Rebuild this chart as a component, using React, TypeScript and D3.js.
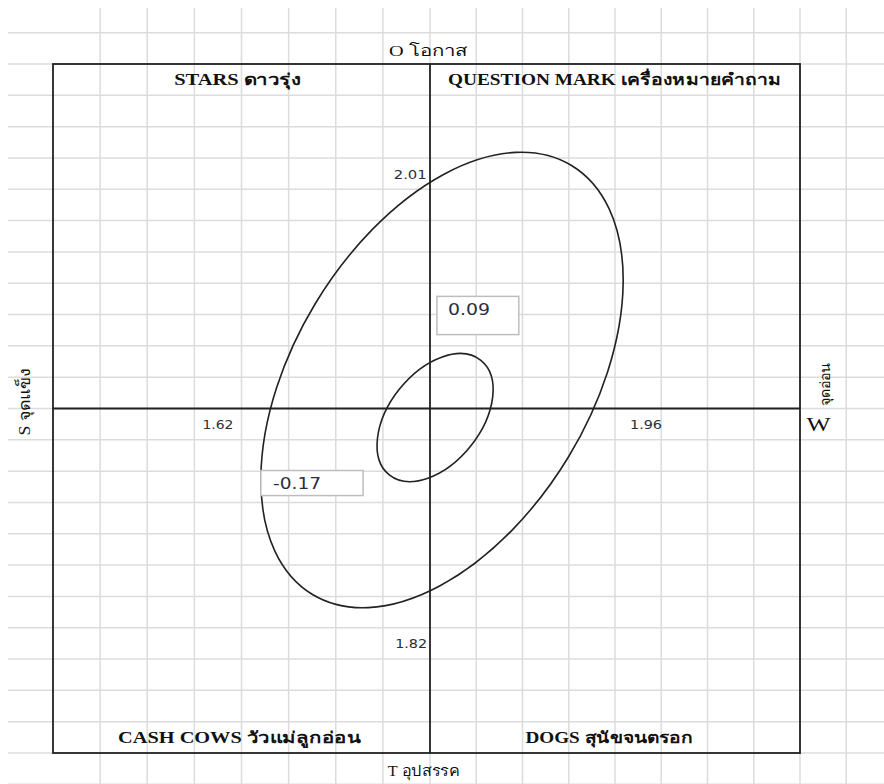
import React from 'react'
import * as d3 from 'd3'

// quadrant titles (TL, TR, BL, BR)
const quadrantTitles = ['STARS ดาวรุ่ง', 'QUESTION MARK เครื่องหมายคำถาม', 'CASH COWS วัวแม่ลูกอ่อน', 'DOGS สุนัขจนตรอก']
// side captions
const sideTop = 'O โอกาส'
const sideBottom = 'T อุปสรรค'
const sideLeft = 'S จุดแข็ง'
const sideRightLetter = 'W'
const sideRightThai = 'จุดอ่อน'

// weighted scores of each side
const scoreSides = ['S', 'W', 'O', 'T']
const scoreValues = [1.62, 1.96, 2.01, 1.82]

// net positions shown in the boxes
const netLabels = ['0.09', '-0.17']

// ellipses: centre, major half-axis, minor half-axis (data units)
const ellipseCenters = [
    [0.26, 0.91],
    [0.11, -0.29],
]
const ellipseMajor = [
    [2.8, 6.85],
    [0.99, 1.83],
]
const ellipseMinor = [
    [2.74, -2.44],
    [0.77, -0.91],
]

const W = 884
const H = 784

const x = d3.scaleLinear().domain([-8, 0, 8]).range([53, 430, 800])
const y = d3.scaleLinear().domain([-11, 11]).range([753, 64])

const serif = "'Liberation Serif', 'Times New Roman', serif"
const sans = "'DejaVu Sans', Verdana, sans-serif"

export default function App() {
    const gridX = d3.range(-7, 10)
    const gridY = d3.range(-12, 13)

    // layout of the texts (data coords)
    const titlePos = [
        { x: -4.08, y: 10.5, len: 127 },
        { x: 3.99, y: 10.5, len: 333 },
        { x: -4.04, y: -10.5, len: 243 },
        { x: 3.88, y: -10.5, len: 168 },
    ]
    const scorePos: Record<string, [number, number, number]> = {
        S: [-4.5, -0.54, 31],
        W: [4.67, -0.54, 32],
        O: [-0.42, 7.47, 33],
        T: [-0.4, -7.53, 32],
    }
    const boxPos = [
        { x0: 0.15, x1: 1.92, y0: 3.58, y1: 2.36, tx: 0.39, ty: 3.15, len: 42 },
        { x0: -3.59, x1: -1.42, y0: -1.98, y1: -2.78, tx: -3.33, ty: -2.4, len: 48 },
    ]

    return (
        <div style={{ position: 'absolute', left: 0, top: 0 }}>
            <svg width={W} height={H} style={{ display: 'block', background: '#fff' }}>
                {/* sheet grid */}
                <g stroke="#dcdcdc" strokeWidth={1.5}>
                    {gridX.map((v) => (
                        <line key={'gx' + v} x1={x(v)} x2={x(v)} y1={8} y2={H} />
                    ))}
                    {gridY.map((v) => (
                        <line key={'gy' + v} x1={8} x2={W} y1={y(v)} y2={y(v)} />
                    ))}
                </g>

                {/* frame and axes */}
                <g stroke="#222" strokeWidth={1.8} fill="none">
                    <rect x={x(-8)} y={y(11)} width={x(8) - x(-8)} height={y(-11) - y(11)} />
                    <line x1={x(0)} x2={x(0)} y1={y(11)} y2={y(-11)} />
                    <line x1={x(-8)} x2={x(8)} y1={y(0)} y2={y(0)} />
                </g>

                {/* ellipses */}
                <g stroke="#222" strokeWidth={1.6} fill="none">
                    {ellipseCenters.map((c, i) => {
                        const cx = x(c[0])
                        const cy = y(c[1])
                        const mx = x(c[0] + ellipseMajor[i][0]) - cx
                        const my = y(c[1] + ellipseMajor[i][1]) - cy
                        const nx = x(c[0] + ellipseMinor[i][0]) - cx
                        const ny = y(c[1] + ellipseMinor[i][1]) - cy
                        const ang = (Math.atan2(my, mx) * 180) / Math.PI
                        return (
                            <ellipse
                                key={i}
                                cx={cx}
                                cy={cy}
                                rx={Math.hypot(mx, my)}
                                ry={Math.hypot(nx, ny)}
                                transform={`rotate(${ang},${cx},${cy})`}
                            />
                        )
                    })}
                </g>

                {/* quadrant titles */}
                {quadrantTitles.map((t, i) => (
                    <text
                        key={t}
                        x={x(titlePos[i].x)}
                        y={y(titlePos[i].y)}
                        textAnchor="middle"
                        dominantBaseline="central"
                        fontFamily={serif}
                        fontWeight="bold"
                        fontSize={16}
                        textLength={titlePos[i].len}
                        lengthAdjust="spacingAndGlyphs"
                        fill="#111"
                    >
                        {t}
                    </text>
                ))}

                {/* side captions */}
                <text
                    x={x(-0.04)}
                    y={y(11.43)}
                    textAnchor="middle"
                    dominantBaseline="central"
                    fontFamily={serif}
                    fontSize={15}
                    textLength={78}
                    lengthAdjust="spacingAndGlyphs"
                    fill="#111"
                >
                    {sideTop}
                </text>
                <text
                    x={x(-0.13)}
                    y={y(-11.56)}
                    textAnchor="middle"
                    dominantBaseline="central"
                    fontFamily={serif}
                    fontSize={15}
                    textLength={72}
                    lengthAdjust="spacingAndGlyphs"
                    fill="#111"
                >
                    {sideBottom}
                </text>
                <text
                    transform={`translate(24,${y(0.22)}) rotate(-90)`}
                    textAnchor="middle"
                    dominantBaseline="central"
                    fontFamily={serif}
                    fontSize={16}
                    textLength={68}
                    lengthAdjust="spacingAndGlyphs"
                    fill="#111"
                >
                    {sideLeft}
                </text>
                <text
                    x={x(8.4)}
                    y={y(-0.5)}
                    textAnchor="middle"
                    dominantBaseline="central"
                    fontFamily={serif}
                    fontSize={19}
                    textLength={24}
                    lengthAdjust="spacingAndGlyphs"
                    fill="#111"
                >
                    {sideRightLetter}
                </text>
                <text
                    transform={`translate(${x(8.55)},${y(0.77)}) rotate(-90)`}
                    textAnchor="middle"
                    dominantBaseline="central"
                    fontFamily={serif}
                    fontSize={14}
                    textLength={44}
                    lengthAdjust="spacingAndGlyphs"
                    fill="#111"
                >
                    {sideRightThai}
                </text>

                {/* side scores */}
                {scoreSides.map((s, i) => (
                    <text
                        key={s}
                        x={x(scorePos[s][0])}
                        y={y(scorePos[s][1])}
                        textAnchor="middle"
                        dominantBaseline="central"
                        fontFamily={sans}
                        fontSize={12}
                        textLength={scorePos[s][2]}
                        lengthAdjust="spacingAndGlyphs"
                        fill="#27303d"
                    >
                        {scoreValues[i].toFixed(2)}
                    </text>
                ))}

                {/* net position boxes */}
                {netLabels.map((t, i) => {
                    const b = boxPos[i]
                    return (
                        <g key={t}>
                            <rect
                                x={x(b.x0)}
                                y={y(b.y0)}
                                width={x(b.x1) - x(b.x0)}
                                height={y(b.y1) - y(b.y0)}
                                fill="#fff"
                                stroke="#bdbdbd"
                                strokeWidth={1.5}
                            />
                            <text
                                x={x(b.tx)}
                                y={y(b.ty)}
                                dominantBaseline="central"
                                fontFamily={sans}
                                fontSize={15}
                                textLength={b.len}
                                lengthAdjust="spacingAndGlyphs"
                                fill="#27303d"
                            >
                                {t}
                            </text>
                        </g>
                    )
                })}
            </svg>
        </div>
    )
}
